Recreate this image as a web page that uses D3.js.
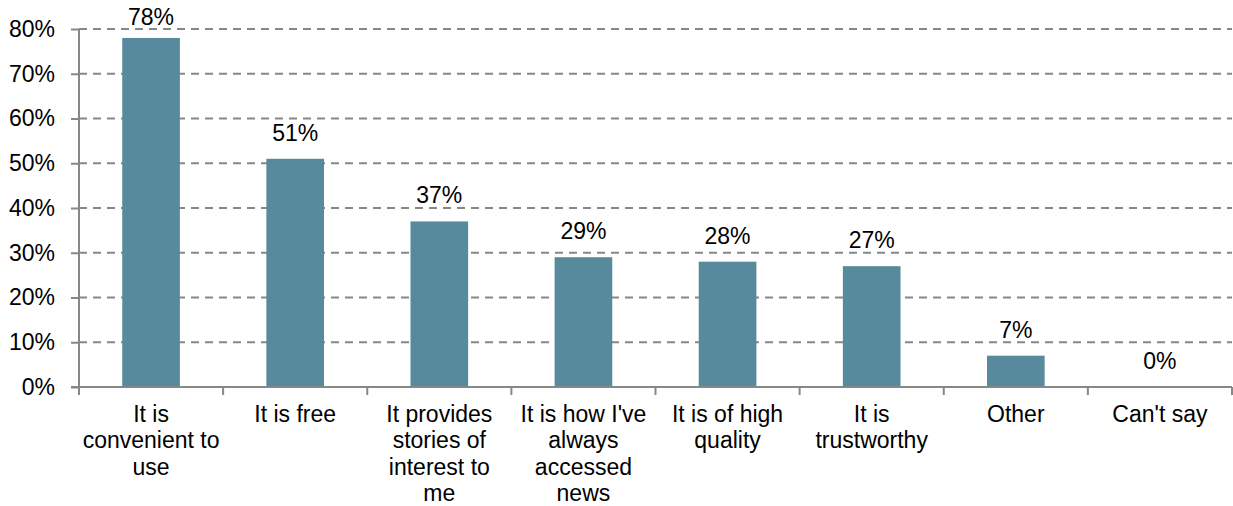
<!DOCTYPE html>
<html>
<head>
<meta charset="utf-8">
<script src="https://cdn.jsdelivr.net/npm/d3@7/dist/d3.min.js"></script>
<style>
  html, body { margin: 0; padding: 0; background: #fff; }
  svg { display: block; font-family: "Liberation Sans", Arial, sans-serif; }
</style>
</head>
<body>
<svg id="chart" width="1233" height="506"></svg>
<script>
// Reasons for using the main news source (share of respondents)
const categories = [
  ["It is", "convenient to", "use"],
  ["It is free"],
  ["It provides", "stories of", "interest to", "me"],
  ["It is how I've", "always", "accessed", "news"],
  ["It is of high", "quality"],
  ["It is", "trustworthy"],
  ["Other"],
  ["Can't say"]
];
const values = [78, 51, 37, 29, 28, 27, 7, 0];
const yTicks = [0, 10, 20, 30, 40, 50, 60, 70, 80];

(function draw() {
  const svg = d3.select("#chart");
  const plotLeft = 79, plotRight = 1232, plotTop = 29, plotBottom = 387;
  const fontSize = 23;
  const barColor = "#588a9e";
  const axisColor = "#878787";

  const keys = categories.map((c, i) => i);
  const x = d3.scaleBand()
    .domain(keys)
    .range([plotLeft, plotRight])
    .paddingInner(0.6)
    .paddingOuter(0.3);

  const y = d3.scaleLinear().domain([0, 80]).range([plotBottom, plotTop]);

  // dashed horizontal gridlines
  svg.append("g")
    .selectAll("line")
    .data(yTicks.filter(t => t > 0))
    .join("line")
    .attr("x1", plotLeft).attr("x2", plotRight)
    .attr("y1", d => y(d)).attr("y2", d => y(d))
    .attr("stroke", axisColor)
    .attr("stroke-width", 2)
    .attr("stroke-dasharray", "8,6");

  // bars
  svg.append("g")
    .selectAll("rect")
    .data(values)
    .join("rect")
    .attr("x", (d, i) => x(i))
    .attr("width", x.bandwidth())
    .attr("y", d => y(d))
    .attr("height", d => plotBottom - y(d))
    .attr("fill", barColor);

  // y axis
  const yAxis = svg.append("g")
    .attr("transform", `translate(${plotLeft},0)`)
    .call(d3.axisLeft(y).tickValues(yTicks).tickFormat(d => d + "%").tickSize(8).tickPadding(16));
  yAxis.select(".domain").attr("stroke", axisColor).attr("stroke-width", 2)
    .attr("d", `M0,${plotTop}V${plotBottom}`);
  yAxis.selectAll(".tick line").attr("stroke", axisColor).attr("stroke-width", 2);
  yAxis.selectAll(".tick text")
    .attr("fill", "#000")
    .style("font-size", fontSize + "px")
    .style("font-family", "'Liberation Sans', Arial, sans-serif");

  // x axis line and category separators
  const xg = svg.append("g");
  xg.append("line")
    .attr("x1", plotLeft - 8).attr("x2", plotRight)
    .attr("y1", plotBottom).attr("y2", plotBottom)
    .attr("stroke", axisColor).attr("stroke-width", 2);
  const step = x.step();
  xg.selectAll("line.sep")
    .data(d3.range(categories.length + 1))
    .join("line")
    .attr("class", "sep")
    .attr("x1", i => plotLeft + i * step).attr("x2", i => plotLeft + i * step)
    .attr("y1", plotBottom).attr("y2", plotBottom + 8)
    .attr("stroke", axisColor).attr("stroke-width", 2);

  // category labels (multi-line)
  const lineH = 26.3;
  xg.selectAll("text.cat")
    .data(categories)
    .join("text")
    .attr("class", "cat")
    .attr("text-anchor", "middle")
    .attr("font-size", fontSize)
    .attr("fill", "#000")
    .each(function(lines, i) {
      const t = d3.select(this);
      lines.forEach((ln, j) => {
        t.append("tspan")
          .attr("x", x(i) + x.bandwidth() / 2)
          .attr("y", 422 + j * lineH)
          .text(ln);
      });
    });

  // value labels
  svg.append("g")
    .selectAll("text")
    .data(values)
    .join("text")
    .attr("x", (d, i) => x(i) + x.bandwidth() / 2)
    .attr("y", d => Math.max(y(d) - 18, 25))
    .attr("text-anchor", "middle")
    .attr("font-size", fontSize)
    .attr("fill", "#000")
    .text(d => d + "%");
})();
</script>
</body>
</html>
